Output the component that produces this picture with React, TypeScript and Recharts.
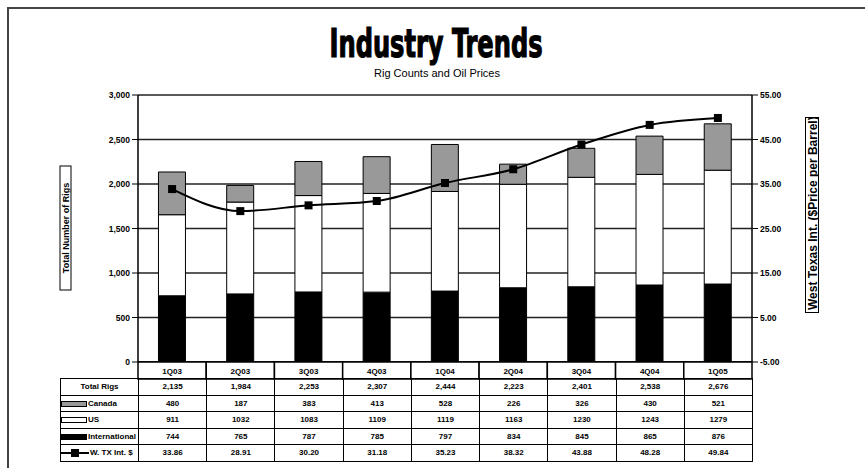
import React from "react";
import {
  ComposedChart,
  Bar,
  Line,
  XAxis,
  YAxis,
  CartesianGrid,
} from "recharts";

const quarters = ["1Q03", "2Q03", "3Q03", "4Q03", "1Q04", "2Q04", "3Q04", "4Q04", "1Q05"];
const canada = [480, 187, 383, 413, 528, 226, 326, 430, 521];
const us = [911, 1032, 1083, 1109, 1119, 1163, 1230, 1243, 1279];
const intl = [744, 765, 787, 785, 797, 834, 845, 865, 876];
const wti = [33.86, 28.91, 30.2, 31.18, 35.23, 38.32, 43.88, 48.28, 49.84];
const rigTicks = [0, 500, 1000, 1500, 2000, 2500, 3000];
const priceTicks = [-5, 5, 15, 25, 35, 45, 55];

const data = quarters.map((q, i) => ({
  q,
  canada: canada[i],
  us: us[i],
  intl: intl[i],
  wti: wti[i],
}));

const W = 865;
const H = 468;
const PLOT_L = 138;
const PLOT_R = 752;
const PLOT_T = 95;
const PLOT_B = 362;
const BAND = (PLOT_R - PLOT_L) / quarters.length;
const FONT = "'Liberation Sans', Arial, sans-serif";

const CatTick = (props: any) => {
  const { x, payload } = props;
  return (
    <g>
      <rect
        x={x - BAND / 2}
        y={PLOT_B}
        width={BAND}
        height={17}
        fill="#fff"
        stroke="#000"
        strokeWidth={1.5}
      />
      <text
        x={x}
        y={PLOT_B + 12}
        textAnchor="middle"
        fontSize={8}
        fontWeight="bold"
        fontFamily={FONT}
        fill="#000"
      >
        {payload.value}
      </text>
    </g>
  );
};

const SquareDot = (props: any) => {
  const { cx, cy, index } = props;
  return <rect key={"d" + index} x={cx - 4} y={cy - 4} width={8} height={8} fill="#000" />;
};

const Swatch = ({ kind }: { kind: string }) => {
  if (kind === "line") {
    return (
      <svg width={28} height={10} style={{ verticalAlign: "middle" }}>
        <line x1={0} y1={5} x2={28} y2={5} stroke="#000" strokeWidth={2} />
        <rect x={10} y={1} width={8} height={8} fill="#000" />
      </svg>
    );
  }
  const fill = kind === "canada" ? "#999" : kind === "us" ? "#fff" : "#000";
  return (
    <svg width={26} height={8} style={{ verticalAlign: "middle" }}>
      <rect x={0.5} y={1.5} width={25} height={5} fill={fill} stroke="#000" strokeWidth={1} />
    </svg>
  );
};

const rows = [
  { label: "Total Rigs", kind: "", values: quarters.map((_, i) => (canada[i] + us[i] + intl[i]).toLocaleString("en-US")) },
  { label: "Canada", kind: "canada", values: canada.map(String) },
  { label: "US", kind: "us", values: us.map(String) },
  { label: "International", kind: "intl", values: intl.map(String) },
  { label: "W. TX Int. $", kind: "line", values: wti.map((v) => v.toFixed(2)) },
];

const cell: React.CSSProperties = {
  border: "1.5px solid #000",
  fontSize: 8,
  fontWeight: "bold",
  textAlign: "center",
  padding: 0,
  height: 15.5,
  whiteSpace: "nowrap",
  overflow: "hidden",
};

export default function App() {
  return (
    <div
      style={{
        position: "absolute",
        left: 0,
        top: 0,
        width: W,
        height: H,
        overflow: "hidden",
        background: "#fff",
        fontFamily: FONT,
      }}
    >
      <div
        style={{
          position: "absolute",
          left: 7,
          top: 7,
          width: 900,
          height: 500,
          border: "2px solid #444",
        }}
      />
      <svg style={{ position: "absolute", left: 0, top: 0 }} width={W} height={90}>
        <text
          x={436}
          y={57}
          textAnchor="middle"
          fontFamily="'Liberation Sans Narrow', 'DejaVu Sans Condensed', Impact, sans-serif"
          fontWeight={900}
          fontSize={39}
          textLength={213}
          lengthAdjust="spacingAndGlyphs"
          stroke="#000"
          strokeWidth={1.2}
          fill="#000"
        >
          Industry Trends
        </text>
        <text x={437} y={77} textAnchor="middle" fontFamily={FONT} fontSize={11} fill="#000">
          Rig Counts and Oil Prices
        </text>
      </svg>
      <div style={{ position: "absolute", left: 0, top: 0 }}>
        <ComposedChart
          width={W}
          height={H}
          data={data}
          margin={{ top: PLOT_T, right: W - PLOT_R - 50, bottom: H - PLOT_B - 17, left: PLOT_L - 50 }}
          barCategoryGap="30%"
        >
          <CartesianGrid yAxisId="left" vertical={false} stroke="#222" strokeWidth={1.3} />
          <XAxis
            dataKey="q"
            xAxisId={0}
            axisLine={{ stroke: "#000", strokeWidth: 1.5 }}
            tickLine={false}
            tick={<CatTick />}
            height={17}
            interval={0}
          />
          <YAxis
            yAxisId="left"
            width={50}
            domain={[0, 3000]}
            ticks={rigTicks}
            tickFormatter={(v: number) => v.toLocaleString("en-US")}
            axisLine={{ stroke: "#000", strokeWidth: 1.5 }}
            tickLine={{ stroke: "#000" }}
            tickSize={6}
            tick={{ fontSize: 8.5, fontWeight: "bold", fill: "#000", fontFamily: FONT }}
          />
          <YAxis
            yAxisId="right"
            orientation="right"
            width={50}
            domain={[-5, 55]}
            ticks={priceTicks}
            tickFormatter={(v: number) => v.toFixed(2)}
            axisLine={{ stroke: "#000", strokeWidth: 1.5 }}
            tickLine={{ stroke: "#000" }}
            tickSize={6}
            tick={{ fontSize: 8.5, fontWeight: "bold", fill: "#000", fontFamily: FONT }}
          />
          <Bar yAxisId="left" dataKey="intl" stackId="r" fill="#000" stroke="#000" strokeWidth={1} isAnimationActive={false} />
          <Bar yAxisId="left" dataKey="us" stackId="r" fill="#fff" stroke="#000" strokeWidth={1} isAnimationActive={false} />
          <Bar yAxisId="left" dataKey="canada" stackId="r" fill="#999" stroke="#000" strokeWidth={1} isAnimationActive={false} />
          <Line
            yAxisId="right"
            dataKey="wti"
            type="monotone"
            stroke="#000"
            strokeWidth={2}
            dot={<SquareDot />}
            isAnimationActive={false}
          />
        </ComposedChart>
      </div>
      <div
        style={{
          position: "absolute",
          left: 64.5 - 61.5,
          top: 226.5 - 5,
          width: 123,
          height: 10,
          transform: "rotate(-90deg)",
          border: "1px solid #000",
          fontSize: 9,
          fontWeight: "bold",
          lineHeight: "10px",
          textAlign: "center",
          whiteSpace: "nowrap",
          overflow: "hidden",
          background: "#fff",
        }}
      >
        Total Number of Rigs
      </div>
      <div
        style={{
          position: "absolute",
          left: 812 - 98,
          top: 215 - 7,
          width: 196,
          height: 14,
          transform: "rotate(-90deg)",
          border: "1px solid #000",
          fontSize: 12,
          fontWeight: "bold",
          lineHeight: "14px",
          textAlign: "left",
          paddingLeft: 2,
          boxSizing: "border-box",
          whiteSpace: "nowrap",
          overflow: "hidden",
          background: "#fff",
        }}
      >
        West Texas Int. ($Price per Barrel)
      </div>
      <table
        style={{
          position: "absolute",
          left: 60,
          top: 378,
          width: 78 + BAND * 9,
          borderCollapse: "collapse",
          tableLayout: "fixed",
        }}
      >
        <colgroup>
          <col style={{ width: 78 }} />
          {quarters.map((q) => (
            <col key={q} style={{ width: BAND }} />
          ))}
        </colgroup>
        <tbody>
          {rows.map((r) => (
            <tr key={r.label}>
              <td style={{ ...cell, textAlign: r.kind ? "left" : "center" }}>
                {r.kind && <Swatch kind={r.kind} />}
                <span style={{ marginLeft: r.kind ? 1 : 0 }}>{r.label}</span>
              </td>
              {r.values.map((v, i) => (
                <td key={i} style={cell}>
                  {v}
                </td>
              ))}
            </tr>
          ))}
        </tbody>
      </table>
    </div>
  );
}
